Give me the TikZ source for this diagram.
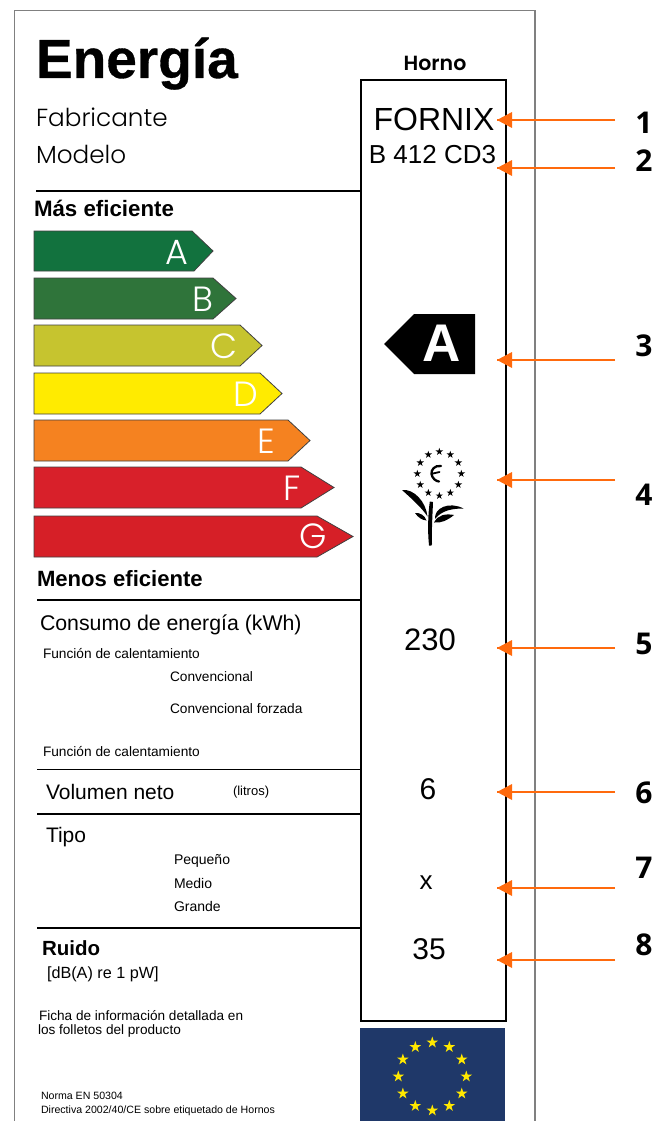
\documentclass[tikz,border=0pt]{standalone}
\usepackage{fontspec}
\setmainfont{Liberation Sans}
\newfontfamily\geo{Poppins Light}
\newfontfamily\geom{Poppins SemiBold}
\newfontfamily\numf{Open Sans}
\newfontfamily\heavy[FakeBold=0.6]{Liberation Sans Bold}
\newcommand\F[1]{\fontsize{#1}{#1}\selectfont}
\newcommand\estar[4]{\begin{scope}[shift={({#1},{#2})},scale=#3]\fill[#4] (0,-1)--(.2245,-.309)--(.951,-.309)--(.363,.118)--(.588,.809)--(0,.382)--(-.588,.809)--(-.363,.118)--(-.951,-.309)--(-.2245,-.309)--cycle;\end{scope}}
\definecolor{orangeA}{HTML}{FF6A0D}
\definecolor{flagblue}{HTML}{1F3869}
\definecolor{flagyellow}{HTML}{FFE800}
\definecolor{barA}{HTML}{12723E}
\definecolor{barB}{HTML}{2F743A}
\definecolor{barC}{HTML}{C6C42F}
\definecolor{barD}{HTML}{FFEB00}
\definecolor{barE}{HTML}{F58220}
\definecolor{barF}{HTML}{D8202A}
\definecolor{barG}{HTML}{D61F27}
\tikzset{
  lbl/.style={anchor=base west,inner sep=0pt,outer sep=0pt,text=black},
  ctr/.style={anchor=base,inner sep=0pt,outer sep=0pt,text=black},
  barletter/.style={anchor=base,inner sep=0pt,outer sep=0pt,text=white,font=\geo\F{35}},
  barshape/.style={draw=black!75,line width=.8pt,line join=miter},
  rule/.style={draw=black,line width=1.6pt},
  pagerule/.style={draw=black!50,line width=1.2pt},
  callout/.style={draw=orangeA,line width=2pt},
  arrowhead/.style={fill=orangeA},
  num/.style={anchor=base,inner sep=0pt,outer sep=0pt,text=black,font=\numf\bfseries\F{30}},
}
\begin{document}
\begin{tikzpicture}[x=1pt,y=-1pt]
\useasboundingbox (0,0) rectangle (667,1121);
\fill[white] (0,0) rectangle (667,1121);
% page outline
\draw[pagerule] (14.5,1121) -- (14.5,10.5) -- (535,10.5) -- (535,1121);
% rules
\draw[rule] (36,191) -- (360,191);
\draw[rule] (37,600) -- (360,600);
\draw[rule] (37,769.5) -- (360,769.5);
\draw[rule] (37,814) -- (360,814);
\draw[rule] (37,928) -- (360,928);
% main box
\draw[draw=black,line width=2pt] (360.5,80.5) rectangle (505.5,1021);
% texts left
\node[lbl,font=\heavy\F{55}] (title) at (36,78) {Energía};
\node[lbl,font=\geo\F{24.7}] (fab) at (36,127) {Fabricante};
\node[lbl,font=\geo\F{24.7}] (mod) at (36,163) {Modelo};
\node[lbl,font=\bfseries\F{22.3}] (mas) at (34,216) {Más eficiente};
\node[lbl,font=\bfseries\F{22.1}] (menos) at (37,586) {Menos eficiente};
\node[lbl,font=\F{21.3}] (cons) at (40,630) {Consumo de energía (kWh)};
\node[lbl,font=\F{13.7}] (fc1) at (43,658) {Función de calentamiento};
\node[lbl,font=\F{13.7}] (conv) at (170,681) {Convencional};
\node[lbl,font=\F{13.7}] (convf) at (170,713) {Convencional forzada};
\node[lbl,font=\F{13.7}] (fc2) at (43,756) {Función de calentamiento};
\node[lbl,font=\F{21}] (vol) at (46,799) {Volumen neto};
\node[lbl,font=\F{13}] (lit) at (233,795) {(litros)};
\node[lbl,font=\F{21}] (tipo) at (46,842) {Tipo};
\node[lbl,font=\F{14}] (peq) at (174,864) {Pequeño};
\node[lbl,font=\F{14}] (med) at (174,888) {Medio};
\node[lbl,font=\F{14}] (gra) at (174,911) {Grande};
\node[lbl,font=\bfseries\F{20.5}] (ruido) at (42,955) {Ruido};
\node[lbl,font=\F{16.2}] (db) at (47,978) {[dB(A) re 1 pW]};
\node[lbl,font=\F{13.6}] (ficha) at (39,1020) {Ficha de información detallada en};
\node[lbl,font=\F{13.6}] (foll) at (38,1034) {los folletos del producto};
\node[lbl,font=\F{10.6}] (norma) at (41,1099) {Norma EN 50304};
\node[lbl,font=\F{10.6}] (dir) at (41,1113) {Directiva 2002/40/CE sobre etiquetado de Hornos};
% bars
\draw[barshape,fill=barA] (34,231) -- (192,231) -- (213,251) -- (194,271) -- (34,271) -- cycle;
\draw[barshape,fill=barB] (34,278) -- (213,278) -- (236,298.5) -- (213,319) -- (34,319) -- cycle;
\draw[barshape,fill=barC] (34,325) -- (240,325) -- (262,345.5) -- (240,366) -- (34,366) -- cycle;
\draw[barshape,fill=barD] (34,373) -- (260,373) -- (282,393.5) -- (260,414) -- (34,414) -- cycle;
\draw[barshape,fill=barE] (34,420) -- (288,420) -- (310,440.5) -- (288,461) -- (34,461) -- cycle;
\draw[barshape,fill=barF] (34,467) -- (301,467) -- (334,487.5) -- (301,508) -- (34,508) -- cycle;
\draw[barshape,fill=barG] (34,516) -- (317,516) -- (353,536.5) -- (317,557) -- (34,557) -- cycle;
\node[barletter] (la) at (176.5,264) {A};
\node[barletter] (lb) at (203,311) {B};
\node[barletter] (lc) at (224,358) {C};
\node[barletter] (ld) at (246,406) {D};
\node[barletter] (le) at (266,453) {E};
\node[barletter] (lf) at (292,500) {F};
\node[barletter] (lg) at (313,548) {G};
% right column
\node[ctr,font=\geom\F{20.5}] (horno) at (435,71) {Horno};
\node[ctr,font=\F{32}] (fornix) at (434,131) {FORNIX};
\node[ctr,font=\F{26}] (model) at (432.5,163) {B 412 CD3};
\fill[black] (384,344) -- (414,314) -- (475,314) -- (475,374) -- (414,374) -- cycle;
\node[ctr,font=\bfseries\F{53},text=white] (bigA) at (441.7,361) {A};
\node[ctr,font=\F{31}] (v230) at (430,650) {230};
\node[ctr,font=\F{30}] (v6) at (428,799) {6};
\node[ctr,font=\F{26}] (vx) at (426,889) {x};
\node[ctr,font=\F{30}] (v35) at (429,959) {35};
% flower
\foreach \a in {0,30,...,330}{\estar{439.3+22*cos(\a)}{473.7+22*sin(\a)}{3.9}{black}}
\draw[black,line width=2.3pt,line cap=round] (441,466) .. controls (434.5,465) and (431,470) .. (431.5,474) .. controls (432,478) and (436,481.5) .. (439,481.5);
\draw[black,line width=1.8pt,line cap=round] (433,473.5) -- (439.5,472);
\fill[black] (429.8,501.5) .. controls (428,515) and (427.5,530) .. (429,545.5) .. controls (431,546.5) and (432,545) .. (432,544) .. controls (431.5,530) and (432.5,515) .. (433,502) -- cycle;
\fill[black] (402,490) .. controls (414,488.5) and (426,502) .. (427.5,516.5) .. controls (422,508) and (412,499) .. (402,490) -- cycle;
\fill[black] (415,513) .. controls (420,512.5) and (425,515.5) .. (426.5,520.5) .. controls (422,520) and (418,517.5) .. (415,513) -- cycle;
\fill[black] (435,519) .. controls (434,508) and (449,501) .. (463.5,508.5) .. controls (453,508.5) and (442,510) .. (435,519) -- cycle;
\fill[black] (434,522.5) .. controls (438,514.5) and (446,513.5) .. (454,515) .. controls (448,520) and (441,523.5) .. (434,522.5) -- cycle;
% flag
\fill[flagblue] (359.5,1027.5) rectangle (505,1121);
\foreach \a in {0,30,...,330}{\estar{432.3+34*cos(\a)}{1076.5+34*sin(\a)}{6}{flagyellow}}
% callouts
\foreach \i/\y/\ny/\d in {1/120/134/1,2/168/171/2,3/360/356/3,4/480/505/4,5/648/654/5,6/792/803/6,7/888/878/7,8/960/955/8}{
  \coordinate (s\i) at (615,\y);
  \coordinate (t\i) at (497,\y);
  \node[num] (n\i) at (644,\ny) {\d};
  \draw[callout] (s\i) -- (t\i);
  \fill[arrowhead] (t\i) -- ++(15,-8) -- ++(0,16) -- cycle;
}
\end{tikzpicture}
\end{document}
